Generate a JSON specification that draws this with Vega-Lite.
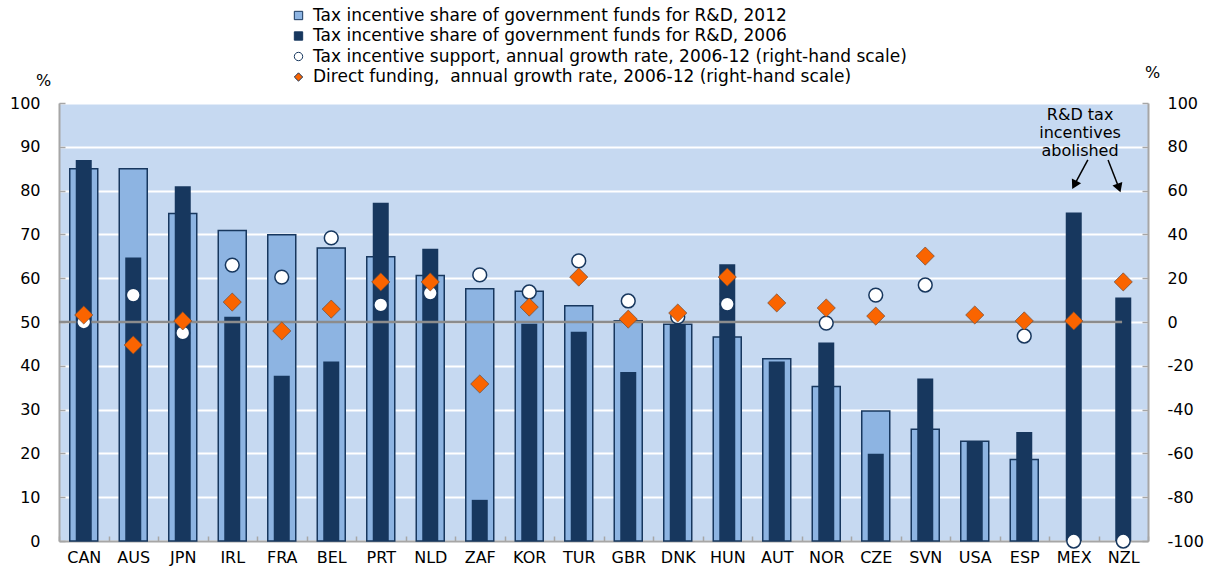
{
  "$schema": "https://vega.github.io/schema/vega-lite/v6.json",
  "autosize": "none",
  "padding": {"left": 59, "top": 103, "right": 64, "bottom": 44},
  "width": 1089,
  "height": 438,
  "background": "white",
  "config": {
    "view": {"fill": "#c6d9f1", "stroke": null},
    "font": "DejaVu Sans",
    "axis": {"labelColor": "#000000", "labelFontSize": 16, "labelFont": "DejaVu Sans", "domainColor": "#a6a6a6", "domainWidth": 2, "tickColor": "#a6a6a6", "tickWidth": 1.5, "titleFont": "DejaVu Sans", "titleFontWeight": "normal", "titleColor": "#000000"},
    "legend": {
      "orient": "none", "legendX": 231, "legendY": -96, "direction": "vertical",
      "labelFont": "DejaVu Sans", "labelFontSize": 17, "labelColor": "#000000",
      "symbolSize": 70, "symbolStrokeWidth": 1, "symbolStrokeColor": "#17375e",
      "rowPadding": 2.5, "labelOffset": 6, "padding": 0, "labelLimit": 800
    }
  },
  "datasets": {
    "main": [
      {"c": "CAN", "s": "Tax incentive share of government funds for R&D, 2012", "v": 85},
      {"c": "AUS", "s": "Tax incentive share of government funds for R&D, 2012", "v": 85},
      {"c": "JPN", "s": "Tax incentive share of government funds for R&D, 2012", "v": 74.8},
      {"c": "IRL", "s": "Tax incentive share of government funds for R&D, 2012", "v": 70.9},
      {"c": "FRA", "s": "Tax incentive share of government funds for R&D, 2012", "v": 69.9},
      {"c": "BEL", "s": "Tax incentive share of government funds for R&D, 2012", "v": 66.9},
      {"c": "PRT", "s": "Tax incentive share of government funds for R&D, 2012", "v": 64.9},
      {"c": "NLD", "s": "Tax incentive share of government funds for R&D, 2012", "v": 60.6},
      {"c": "ZAF", "s": "Tax incentive share of government funds for R&D, 2012", "v": 57.6},
      {"c": "KOR", "s": "Tax incentive share of government funds for R&D, 2012", "v": 57},
      {"c": "TUR", "s": "Tax incentive share of government funds for R&D, 2012", "v": 53.7},
      {"c": "GBR", "s": "Tax incentive share of government funds for R&D, 2012", "v": 50.3},
      {"c": "DNK", "s": "Tax incentive share of government funds for R&D, 2012", "v": 49.5},
      {"c": "HUN", "s": "Tax incentive share of government funds for R&D, 2012", "v": 46.6},
      {"c": "AUT", "s": "Tax incentive share of government funds for R&D, 2012", "v": 41.6},
      {"c": "NOR", "s": "Tax incentive share of government funds for R&D, 2012", "v": 35.3},
      {"c": "CZE", "s": "Tax incentive share of government funds for R&D, 2012", "v": 29.7},
      {"c": "SVN", "s": "Tax incentive share of government funds for R&D, 2012", "v": 25.5},
      {"c": "USA", "s": "Tax incentive share of government funds for R&D, 2012", "v": 22.8},
      {"c": "ESP", "s": "Tax incentive share of government funds for R&D, 2012", "v": 18.6},
      {"c": "CAN", "s": "Tax incentive share of government funds for R&D, 2006", "v": 87},
      {"c": "AUS", "s": "Tax incentive share of government funds for R&D, 2006", "v": 64.7},
      {"c": "JPN", "s": "Tax incentive share of government funds for R&D, 2006", "v": 81},
      {"c": "IRL", "s": "Tax incentive share of government funds for R&D, 2006", "v": 51.2},
      {"c": "FRA", "s": "Tax incentive share of government funds for R&D, 2006", "v": 37.7},
      {"c": "BEL", "s": "Tax incentive share of government funds for R&D, 2006", "v": 41},
      {"c": "PRT", "s": "Tax incentive share of government funds for R&D, 2006", "v": 77.2},
      {"c": "NLD", "s": "Tax incentive share of government funds for R&D, 2006", "v": 66.7},
      {"c": "ZAF", "s": "Tax incentive share of government funds for R&D, 2006", "v": 9.4},
      {"c": "KOR", "s": "Tax incentive share of government funds for R&D, 2006", "v": 49.6},
      {"c": "TUR", "s": "Tax incentive share of government funds for R&D, 2006", "v": 47.8},
      {"c": "GBR", "s": "Tax incentive share of government funds for R&D, 2006", "v": 38.6},
      {"c": "DNK", "s": "Tax incentive share of government funds for R&D, 2006", "v": 49.4},
      {"c": "HUN", "s": "Tax incentive share of government funds for R&D, 2006", "v": 63.2},
      {"c": "AUT", "s": "Tax incentive share of government funds for R&D, 2006", "v": 41},
      {"c": "NOR", "s": "Tax incentive share of government funds for R&D, 2006", "v": 45.3},
      {"c": "CZE", "s": "Tax incentive share of government funds for R&D, 2006", "v": 19.9},
      {"c": "SVN", "s": "Tax incentive share of government funds for R&D, 2006", "v": 37.1},
      {"c": "USA", "s": "Tax incentive share of government funds for R&D, 2006", "v": 22.8},
      {"c": "ESP", "s": "Tax incentive share of government funds for R&D, 2006", "v": 24.9},
      {"c": "MEX", "s": "Tax incentive share of government funds for R&D, 2006", "v": 75},
      {"c": "NZL", "s": "Tax incentive share of government funds for R&D, 2006", "v": 55.6},
      {"c": "CAN", "s": "Tax incentive support, annual growth rate, 2006-12 (right-hand scale)", "v": 0},
      {"c": "AUS", "s": "Tax incentive support, annual growth rate, 2006-12 (right-hand scale)", "v": 12.3},
      {"c": "JPN", "s": "Tax incentive support, annual growth rate, 2006-12 (right-hand scale)", "v": -5},
      {"c": "IRL", "s": "Tax incentive support, annual growth rate, 2006-12 (right-hand scale)", "v": 26},
      {"c": "FRA", "s": "Tax incentive support, annual growth rate, 2006-12 (right-hand scale)", "v": 20.5},
      {"c": "BEL", "s": "Tax incentive support, annual growth rate, 2006-12 (right-hand scale)", "v": 38.4},
      {"c": "PRT", "s": "Tax incentive support, annual growth rate, 2006-12 (right-hand scale)", "v": 7.8},
      {"c": "NLD", "s": "Tax incentive support, annual growth rate, 2006-12 (right-hand scale)", "v": 13.2},
      {"c": "ZAF", "s": "Tax incentive support, annual growth rate, 2006-12 (right-hand scale)", "v": 21.5},
      {"c": "KOR", "s": "Tax incentive support, annual growth rate, 2006-12 (right-hand scale)", "v": 13.7},
      {"c": "TUR", "s": "Tax incentive support, annual growth rate, 2006-12 (right-hand scale)", "v": 27.9},
      {"c": "GBR", "s": "Tax incentive support, annual growth rate, 2006-12 (right-hand scale)", "v": 9.6},
      {"c": "DNK", "s": "Tax incentive support, annual growth rate, 2006-12 (right-hand scale)", "v": 2.3},
      {"c": "HUN", "s": "Tax incentive support, annual growth rate, 2006-12 (right-hand scale)", "v": 8.2},
      {"c": "NOR", "s": "Tax incentive support, annual growth rate, 2006-12 (right-hand scale)", "v": -0.5},
      {"c": "CZE", "s": "Tax incentive support, annual growth rate, 2006-12 (right-hand scale)", "v": 12.3},
      {"c": "SVN", "s": "Tax incentive support, annual growth rate, 2006-12 (right-hand scale)", "v": 16.9},
      {"c": "ESP", "s": "Tax incentive support, annual growth rate, 2006-12 (right-hand scale)", "v": -6.4},
      {"c": "MEX", "s": "Tax incentive support, annual growth rate, 2006-12 (right-hand scale)", "v": -100},
      {"c": "NZL", "s": "Tax incentive support, annual growth rate, 2006-12 (right-hand scale)", "v": -100},
      {"c": "CAN", "s": "Direct funding,\u00a0 annual growth rate, 2006-12 (right-hand scale)", "v": 3.2},
      {"c": "AUS", "s": "Direct funding,\u00a0 annual growth rate, 2006-12 (right-hand scale)", "v": -10.5},
      {"c": "JPN", "s": "Direct funding,\u00a0 annual growth rate, 2006-12 (right-hand scale)", "v": 0.5},
      {"c": "IRL", "s": "Direct funding,\u00a0 annual growth rate, 2006-12 (right-hand scale)", "v": 9.1},
      {"c": "FRA", "s": "Direct funding,\u00a0 annual growth rate, 2006-12 (right-hand scale)", "v": -4.1},
      {"c": "BEL", "s": "Direct funding,\u00a0 annual growth rate, 2006-12 (right-hand scale)", "v": 5.9},
      {"c": "PRT", "s": "Direct funding,\u00a0 annual growth rate, 2006-12 (right-hand scale)", "v": 18.3},
      {"c": "NLD", "s": "Direct funding,\u00a0 annual growth rate, 2006-12 (right-hand scale)", "v": 18.3},
      {"c": "ZAF", "s": "Direct funding,\u00a0 annual growth rate, 2006-12 (right-hand scale)", "v": -28.3},
      {"c": "KOR", "s": "Direct funding,\u00a0 annual growth rate, 2006-12 (right-hand scale)", "v": 6.8},
      {"c": "TUR", "s": "Direct funding,\u00a0 annual growth rate, 2006-12 (right-hand scale)", "v": 20.5},
      {"c": "GBR", "s": "Direct funding,\u00a0 annual growth rate, 2006-12 (right-hand scale)", "v": 1.3},
      {"c": "DNK", "s": "Direct funding,\u00a0 annual growth rate, 2006-12 (right-hand scale)", "v": 4.1},
      {"c": "HUN", "s": "Direct funding,\u00a0 annual growth rate, 2006-12 (right-hand scale)", "v": 20.5},
      {"c": "AUT", "s": "Direct funding,\u00a0 annual growth rate, 2006-12 (right-hand scale)", "v": 8.7},
      {"c": "NOR", "s": "Direct funding,\u00a0 annual growth rate, 2006-12 (right-hand scale)", "v": 6.4},
      {"c": "CZE", "s": "Direct funding,\u00a0 annual growth rate, 2006-12 (right-hand scale)", "v": 2.7},
      {"c": "SVN", "s": "Direct funding,\u00a0 annual growth rate, 2006-12 (right-hand scale)", "v": 30.1},
      {"c": "USA", "s": "Direct funding,\u00a0 annual growth rate, 2006-12 (right-hand scale)", "v": 3.2},
      {"c": "ESP", "s": "Direct funding,\u00a0 annual growth rate, 2006-12 (right-hand scale)", "v": 0.5},
      {"c": "MEX", "s": "Direct funding,\u00a0 annual growth rate, 2006-12 (right-hand scale)", "v": 0.5},
      {"c": "NZL", "s": "Direct funding,\u00a0 annual growth rate, 2006-12 (right-hand scale)", "v": 18.3}
    ],
    "arrows": [
      {"who": "MEX", "x": 19.84, "y": 87, "x2": 19.58, "y2": 81.3},
      {"who": "NZL", "x": 20.23, "y": 87, "x2": 20.44, "y2": 80.6}
    ],
    "note": [
      {"x": 19.69, "y": 99.2, "t": "R&D tax\nincentives\nabolished"}
    ]
  },
  "layer": [
    {
      "data": {"name": "main"},
      "encoding": {
        "x": {"field": "c", "type": "nominal", "sort": null,
          "scale": {"domain": ["CAN","AUS","JPN","IRL","FRA","BEL","PRT","NLD","ZAF","KOR","TUR","GBR","DNK","HUN","AUT","NOR","CZE","SVN","USA","ESP","MEX","NZL"], "paddingInner": 0, "paddingOuter": 0},
          "axis": {"title": null, "labelAngle": 0, "labelAlign": "center", "labelBaseline": "top", "labelPadding": 13, "tickBand": "extent", "tickSize": -5, "grid": false}},
        "y": {"field": "v", "type": "quantitative", "scale": {"domain": [0, 100], "nice": false},
          "axis": {"title": "%", "titleAngle": 0, "titleX": -16, "titleY": -23, "titleAlign": "center", "titleBaseline": "middle", "titleFontSize": 16,
            "values": [0,10,20,30,40,50,60,70,80,90,100], "grid": true, "gridColor": "#ffffff", "gridWidth": 2,
            "tickSize": -6, "labelPadding": 25}},
        "fill": {"field": "s", "type": "nominal",
          "scale": {"domain": ["Tax incentive share of government funds for R&D, 2012", "Tax incentive share of government funds for R&D, 2006", "Tax incentive support, annual growth rate, 2006-12 (right-hand scale)", "Direct funding,\u00a0 annual growth rate, 2006-12 (right-hand scale)"],
            "range": ["#8db4e2", "#17375e", "#ffffff", "#fa6400"]},
          "legend": {"title": null}}
      },
      "layer": [
        {"transform": [{"filter": "datum.s === 'Tax incentive share of government funds for R&D, 2012'"}],
         "mark": {"type": "bar", "size": 28, "stroke": "#17375e", "strokeWidth": 1.5}},
        {"transform": [{"filter": "datum.s === 'Tax incentive share of government funds for R&D, 2006'"}],
         "mark": {"type": "bar", "size": 16}}
      ]
    },
    {
      "layer": [
        {"data": {"values": [{}]},
         "mark": {"type": "rule", "color": "#8c8c8c", "strokeWidth": 2.5},
         "encoding": {"x": {"datum": 0, "type": "quantitative", "scale": {"domain": [0, 21], "nice": false, "zero": false}, "axis": null},
                      "x2": {"datum": 20.5},
                      "y": {"datum": 50, "type": "quantitative", "scale": {"domain": [0, 100], "nice": false}, "axis": null}}},
        {"data": {"name": "arrows"},
         "mark": {"type": "rule", "color": "#000000", "strokeWidth": 1.5},
         "encoding": {"x": {"field": "x", "type": "quantitative"}, "x2": {"field": "x2"},
                      "y": {"field": "y", "type": "quantitative"}, "y2": {"field": "y2"}}},
        {"data": {"name": "arrows"},
         "transform": [{"filter": "datum.who === 'MEX'"}],
         "mark": {"type": "point", "shape": "triangle-down", "filled": true, "color": "#000000", "size": 110, "angle": 28, "opacity": 1},
         "encoding": {"x": {"field": "x2", "type": "quantitative"}, "y": {"field": "y2", "type": "quantitative"}}},
        {"data": {"name": "arrows"},
         "transform": [{"filter": "datum.who === 'NZL'"}],
         "mark": {"type": "point", "shape": "triangle-down", "filled": true, "color": "#000000", "size": 110, "angle": 340, "opacity": 1},
         "encoding": {"x": {"field": "x2", "type": "quantitative"}, "y": {"field": "y2", "type": "quantitative"}}},
        {"data": {"name": "note"},
         "mark": {"type": "text", "lineBreak": "\n", "fontSize": 16, "font": "DejaVu Sans", "align": "center", "baseline": "top", "lineHeight": 18, "color": "#000000"},
         "encoding": {"x": {"field": "x", "type": "quantitative"}, "y": {"field": "y", "type": "quantitative"}, "text": {"field": "t"}}}
      ]
    },
    {
      "data": {"name": "main"},
      "encoding": {
        "x": {"field": "c", "type": "nominal", "sort": null,
          "scale": {"domain": ["CAN","AUS","JPN","IRL","FRA","BEL","PRT","NLD","ZAF","KOR","TUR","GBR","DNK","HUN","AUT","NOR","CZE","SVN","USA","ESP","MEX","NZL"], "paddingInner": 0, "paddingOuter": 0},
          "axis": null},
        "y": {"field": "v", "type": "quantitative", "scale": {"domain": [-100, 100], "nice": false},
          "axis": {"orient": "right", "title": "%", "titleAngle": 0, "titleX": 4, "titleY": -31, "titleAlign": "center", "titleBaseline": "middle", "titleFontSize": 16,
            "values": [-100,-80,-60,-40,-20,0,20,40,60,80,100], "grid": false, "tickSize": -6, "labelPadding": 25, "labelAlign": "left",
            "labelExpr": "replace(datum.label, '\u2212', '-')"}},
        "fill": {"field": "s", "type": "nominal", "legend": {"title": null}},
        "shape": {"field": "s", "type": "nominal",
          "scale": {"domain": ["Tax incentive share of government funds for R&D, 2012", "Tax incentive share of government funds for R&D, 2006", "Tax incentive support, annual growth rate, 2006-12 (right-hand scale)", "Direct funding,\u00a0 annual growth rate, 2006-12 (right-hand scale)"],
            "range": ["square", "square", "circle", "diamond"]},
          "legend": {"title": null}}
      },
      "layer": [
        {"transform": [{"filter": "datum.s === 'Tax incentive support, annual growth rate, 2006-12 (right-hand scale)'"}],
         "mark": {"type": "point", "filled": true, "size": 190, "stroke": "#17375e", "strokeWidth": 1.5, "opacity": 1}},
        {"transform": [{"filter": "datum.s === 'Direct funding,\u00a0 annual growth rate, 2006-12 (right-hand scale)'"}],
         "mark": {"type": "point", "filled": true, "size": 330, "stroke": "#6b4a3a", "strokeWidth": 0.7, "opacity": 1}}
      ]
    }
  ],
  "resolve": {"scale": {"x": "independent", "y": "independent"}}
}
